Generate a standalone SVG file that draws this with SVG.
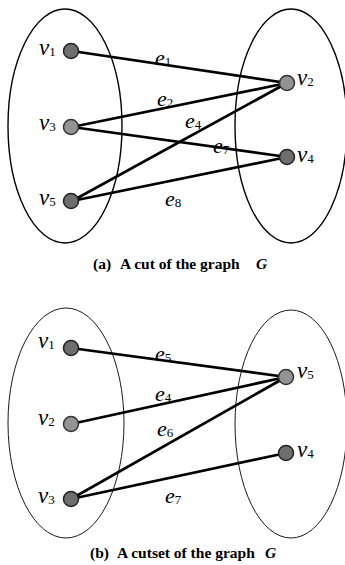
<svg xmlns="http://www.w3.org/2000/svg" width="345" height="565" viewBox="0 0 345 565">
<style>
.set1{fill:none;stroke:#000;stroke-width:1.4}
.set2{fill:none;stroke:#000;stroke-width:0.9}
.edge{stroke:#000;stroke-width:2.7;stroke-linecap:round}
.node{fill:#6e6e6e;stroke:#222;stroke-width:1.5}
.nodel{fill:#939393;stroke:#333;stroke-width:1.5}
.lbl{font-family:"Liberation Serif",serif;font-style:italic;font-size:23px;fill:#000}
.el{font-family:"Liberation Serif",serif;font-style:italic;font-size:22px;fill:#000}
.sub{font-size:13px;font-style:normal}
.cap{font-family:"Liberation Serif",serif;font-weight:bold;font-size:15.5px;fill:#000}
</style>
<rect width="345" height="565" fill="#fff"/>
<g id="sets-a">
<ellipse class="set1" cx="65" cy="126" rx="57" ry="117"/>
<ellipse class="set1" cx="291" cy="126" rx="56" ry="117"/>
</g>
<g id="connectors-a">
<line class="edge" x1="72" y1="51" x2="287" y2="83"/>
<line class="edge" x1="72" y1="127" x2="287" y2="83"/>
<line class="edge" x1="72" y1="201" x2="287" y2="83"/>
<line class="edge" x1="72" y1="127" x2="287" y2="157"/>
<line class="edge" x1="72" y1="201" x2="287" y2="157"/>
<text class="el" x="155" y="65">e<tspan class="sub" dy="1">1</tspan></text>
<text class="el" x="157" y="106">e<tspan class="sub" dy="1">2</tspan></text>
<text class="el" x="185" y="128">e<tspan class="sub" dy="1">4</tspan></text>
<text class="el" x="213" y="153">e<tspan class="sub" dy="1">7</tspan></text>
<text class="el" x="165" y="206">e<tspan class="sub" dy="1">8</tspan></text>
</g>
<g id="a-v1"><circle class="node" cx="71" cy="51" r="7.5"/><text class="lbl" x="39" y="55">v<tspan class="sub" dy="1">1</tspan></text></g>
<g id="a-v2"><circle class="nodel" cx="287" cy="83" r="7.5"/><text class="lbl" x="297" y="85">v<tspan class="sub" dy="1">2</tspan></text></g>
<g id="a-v3"><circle class="nodel" cx="71" cy="127" r="7.5"/><text class="lbl" x="39" y="130">v<tspan class="sub" dy="1">3</tspan></text></g>
<g id="a-v4"><circle class="node" cx="287" cy="157" r="7.5"/><text class="lbl" x="297" y="162">v<tspan class="sub" dy="1">4</tspan></text></g>
<g id="a-v5"><circle class="node" cx="71" cy="201" r="7.5"/><text class="lbl" x="39" y="205">v<tspan class="sub" dy="1">5</tspan></text></g>
<g id="caption-a">
<text class="cap" x="93" y="269">(a)</text>
<text class="cap" x="120" y="269">A cut of the graph</text>
<text class="cap" x="256" y="269" font-style="italic">G</text>
</g>
<g id="sets-b">
<ellipse class="set2" cx="66" cy="423" rx="58" ry="115"/>
<ellipse class="set2" cx="291" cy="424" rx="56" ry="114"/>
</g>
<g id="connectors-b">
<line class="edge" x1="71" y1="348" x2="286" y2="377"/>
<line class="edge" x1="71" y1="424" x2="286" y2="377"/>
<line class="edge" x1="71" y1="499" x2="286" y2="377"/>
<line class="edge" x1="71" y1="499" x2="286" y2="453"/>
<text class="el" x="155" y="361">e<tspan class="sub" dy="1">5</tspan></text>
<text class="el" x="155" y="401">e<tspan class="sub" dy="1">4</tspan></text>
<text class="el" x="157" y="436">e<tspan class="sub" dy="1">6</tspan></text>
<text class="el" x="165" y="503">e<tspan class="sub" dy="1">7</tspan></text>
</g>
<g id="b-v1"><circle class="node" cx="71" cy="348" r="7.5"/><text class="lbl" x="38" y="348">v<tspan class="sub" dy="1">1</tspan></text></g>
<g id="b-v5"><circle class="nodel" cx="286" cy="377" r="7.5"/><text class="lbl" x="297" y="378">v<tspan class="sub" dy="1">5</tspan></text></g>
<g id="b-v2"><circle class="nodel" cx="71" cy="424" r="7.5"/><text class="lbl" x="38" y="425">v<tspan class="sub" dy="1">2</tspan></text></g>
<g id="b-v4"><circle class="node" cx="286" cy="453" r="7.5"/><text class="lbl" x="297" y="457">v<tspan class="sub" dy="1">4</tspan></text></g>
<g id="b-v3"><circle class="node" cx="71" cy="499" r="7.5"/><text class="lbl" x="38" y="503">v<tspan class="sub" dy="1">3</tspan></text></g>
<g id="caption-b">
<text class="cap" x="90" y="558">(b)</text>
<text class="cap" x="117" y="558">A cutset of the graph</text>
<text class="cap" x="265" y="558" font-style="italic">G</text>
</g>
</svg>
